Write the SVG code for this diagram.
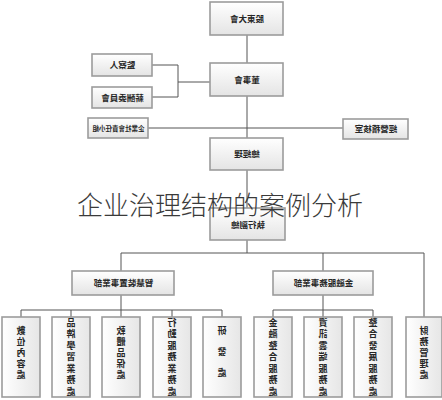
<svg xmlns="http://www.w3.org/2000/svg" width="442" height="400" viewBox="0 0 442 400">
<defs>
<linearGradient id="g" x1="0" y1="0" x2="0" y2="1">
<stop offset="0" stop-color="#ffffff"/>
<stop offset="1" stop-color="#e4e4e4"/>
</linearGradient>
<linearGradient id="gv" x1="0" y1="0" x2="1" y2="0">
<stop offset="0" stop-color="#ffffff"/>
<stop offset="1" stop-color="#e6e6e6"/>
</linearGradient>
</defs>
<style>
.b{fill:url(#g);stroke:#9c9c9c;stroke-width:1.6}
.v{fill:url(#gv);stroke:#9c9c9c;stroke-width:1.6}
.t{font-family:"Noto Sans CJK TC","Noto Sans CJK SC",sans-serif;font-weight:700;fill:#262626;text-anchor:middle;font-size:8.5px}
.s{font-size:6.5px}
.vt{font-size:9px;writing-mode:vertical-rl}
.l7{letter-spacing:2.5px}
.l5{letter-spacing:2px}
.l3{letter-spacing:12px}
.m{transform-box:fill-box;transform-origin:center;transform:scaleX(-1)}
.c{fill:none;stroke:#555;stroke-width:1}
.title{font-family:"Noto Sans CJK SC",sans-serif;font-weight:300;font-size:26px;fill:#3a3a3a;text-anchor:middle}
</style>
<rect width="442" height="400" fill="#ffffff"/>
<g id="connectors">
<path class="c" d="M247 35V63M247 96V138M247 170V208M247 240V253"/>
<path class="c" d="M152 65H178V97H152M178 82H210"/>
<path class="c" d="M148 128H343"/>
<path class="c" d="M121 271V253H424V317M323 253V271"/>
<path class="c" d="M121 295V317M21 317V310H222V317M71 310V317M172 310V317"/>
<path class="c" d="M323 295V317M273 317V310H373V317"/>
</g>
<g id="n-gudong"><rect class="b" x="210" y="2" width="73" height="33"/><text class="t m" x="246.5" y="21.5">股東大會</text></g>
<g id="n-dongshi"><rect class="b" x="210" y="63" width="73" height="33"/><text class="t m" x="246.5" y="82.5">董事會</text></g>
<g id="n-jiancha"><rect class="b" x="92" y="54" width="60" height="22"/><text class="t m" x="122" y="68">監察人</text></g>
<g id="n-xinchou"><rect class="b" x="92" y="87" width="60" height="21"/><text class="t m" x="122" y="100.5">薪酬委員會</text></g>
<g id="n-csr"><rect class="b" x="88" y="118" width="60" height="20"/><text class="t s m" x="118" y="130.5">企業社會責任小組</text></g>
<g id="n-jihe"><rect class="b" x="343" y="119" width="65" height="20"/><text class="t m" x="375.5" y="132">經營稽核室</text></g>
<g id="n-zongjingli"><rect class="b" x="210" y="138" width="73" height="32"/><text class="t m" x="246.5" y="157">總經理</text></g>
<g id="n-fuzong"><rect class="b" x="210" y="208" width="75" height="32"/><text class="t m" x="247.5" y="228">執行副總</text></g>
<g id="n-zhihui"><rect class="b" x="72" y="271" width="102" height="24"/><text class="t m" x="123" y="286">智慧裝置事業部</text></g>
<g id="n-jinrong"><rect class="b" x="273" y="271" width="100" height="24"/><text class="t m" x="323" y="286">金融服務事業部</text></g>
<g id="n-c1"><rect class="v" x="2" y="317" width="38" height="80"/><text class="t vt l5 m" x="21" y="354">數位內容處</text></g>
<g id="n-c2"><rect class="v" x="52" y="317" width="38" height="80"/><text class="t vt l7 m" x="71" y="358">品牌學習業務處</text></g>
<g id="n-c3"><rect class="v" x="102" y="317" width="38" height="80"/><text class="t vt l5 m" x="121" y="354">軟體品保處</text></g>
<g id="n-c4"><rect class="v" x="153" y="317" width="38" height="80"/><text class="t vt l7 m" x="172" y="358">行動服務業務處</text></g>
<g id="n-c5"><rect class="v" x="203" y="317" width="38" height="80"/><text class="t vt l3 m" x="222" y="358">研發處</text></g>
<g id="n-c6"><rect class="v" x="254" y="317" width="38" height="80"/><text class="t vt l7 m" x="273" y="358">金融整合服務處</text></g>
<g id="n-c7"><rect class="v" x="304" y="317" width="38" height="80"/><text class="t vt l7 m" x="323" y="358">資訊雲端服務處</text></g>
<g id="n-c8"><rect class="v" x="354" y="317" width="38" height="80"/><text class="t vt l7 m" x="373" y="358">整合發展服務處</text></g>
<g id="n-c9"><rect class="v" x="406" y="317" width="36" height="80"/><text class="t vt l5 m" x="424" y="354">財務管理處</text></g>
<text class="title" x="220" y="215">企业治理结构的案例分析</text>
</svg>
